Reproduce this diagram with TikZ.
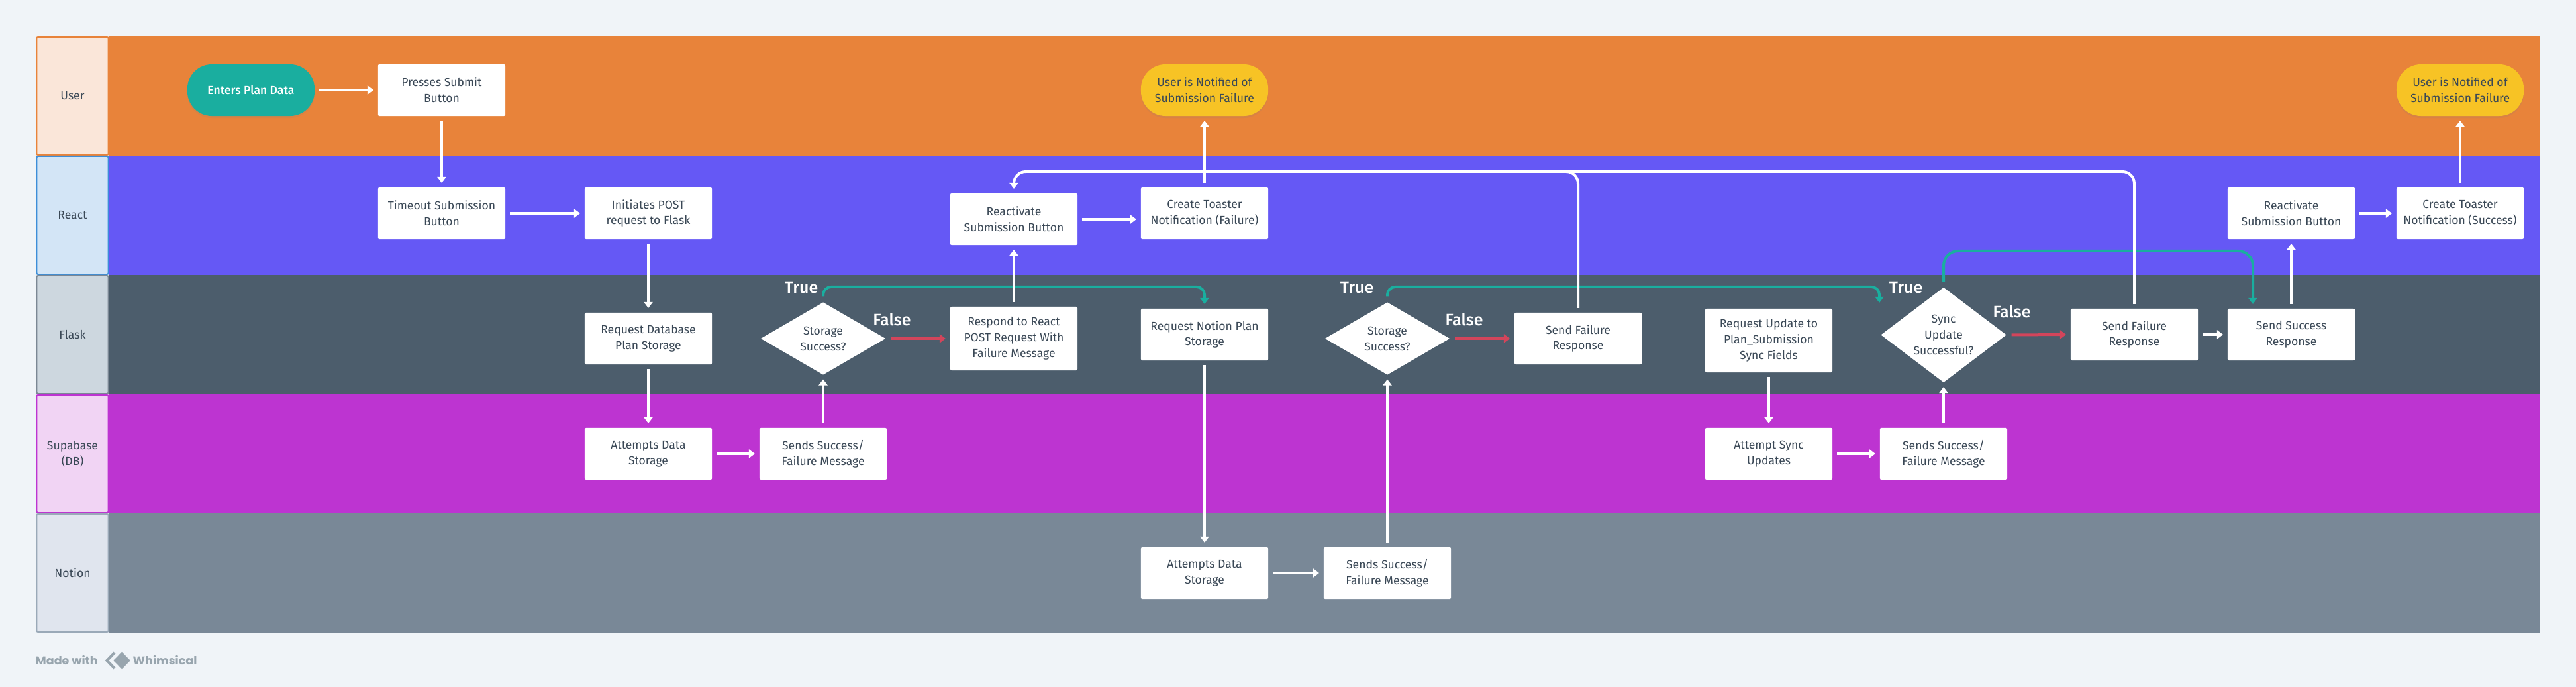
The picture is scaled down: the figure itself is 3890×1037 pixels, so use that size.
\documentclass[tikz,border=0pt]{standalone}
\usepackage{fontspec}
\setmainfont{Fira Sans}
\newfontfamily\mediumfont{Fira Sans Medium}
\newfontfamily\footfont{Poppins}
\usetikzlibrary{arrows.meta}
\usetikzlibrary{shapes.geometric}
\usetikzlibrary{shadows}
\definecolor{pagegrey}{HTML}{F0F4F8}
\definecolor{laneorange}{HTML}{E8833A}
\definecolor{laneviolet}{HTML}{6558F5}
\definecolor{laneslate}{HTML}{4C5D6C}
\definecolor{lanepurple}{HTML}{BD34D1}
\definecolor{lanegrey}{HTML}{798897}
\definecolor{headorange}{HTML}{FAE6D9}
\definecolor{headblue}{HTML}{D3E5F6}
\definecolor{headslate}{HTML}{CDD7DF}
\definecolor{headpurple}{HTML}{F1D4F4}
\definecolor{headgrey}{HTML}{E0E5EE}
\definecolor{edgeblue}{HTML}{3D8ED8}
\definecolor{edgeslate}{HTML}{7B8794}
\definecolor{edgegrey}{HTML}{9AA9B8}
\definecolor{bookteal}{HTML}{1AAE9F}
\definecolor{bookyellow}{HTML}{F7C325}
\definecolor{bookred}{HTML}{D3455B}
\definecolor{inkdark}{HTML}{3A4856}
\definecolor{inklight}{HTML}{98A5AE}
\tikzset{>={Triangle[length=0.09cm,width=0.13cm]}}
\tikzstyle{lane}=[rectangle,minimum height=1.8cm,minimum width=36.70cm,inner sep=0,outer sep=0]
\tikzstyle{lanehead}=[rectangle,rounded corners=0.02cm,minimum height=1.78cm,minimum width=1.08cm,inner sep=0,align=center,text=inkdark,line width=0.02cm,font=\fontsize{5}{6.8}\selectfont]
\tikzstyle{task}=[rectangle,rounded corners=0.02cm,fill=white,minimum width=1.92cm,minimum height=0.78cm,inner sep=0,outer sep=0,align=center,text=inkdark,font=\fontsize{5}{6.8}\selectfont]
\tikzstyle{pill}=[task,rounded corners=0.37cm,drop shadow={opacity=0.15,shadow xshift=0cm,shadow yshift=-0.03cm}]
\tikzstyle{choice}=[diamond,fill=white,inner sep=0,outer sep=0,align=center,text=inkdark,font=\fontsize{5}{6.8}\selectfont]
\tikzstyle{whiteline}=[draw=white,line width=0.04cm,->,shorten >=0.07cm,shorten <=0.07cm]
\tikzstyle{tealline}=[draw=bookteal,line width=0.04cm,->,shorten >=0.07cm,shorten <=0.09cm,rounded corners=0.12cm]
\tikzstyle{redline}=[draw=bookred,line width=0.04cm,->,shorten >=0.07cm,shorten <=0.08cm]
\tikzstyle{branch}=[text=white,inner sep=0,font=\mediumfont\fontsize{7.1}{9}\selectfont]
\tikzstyle{credit}=[text=inklight,anchor=west,inner sep=0,font=\footfont\fontsize{5}{7}\bfseries\selectfont]
\begin{document}
\begin{tikzpicture}[x=0.01cm,y=-0.01cm]
    \useasboundingbox[fill=pagegrey] (0,0) rectangle (3890,1037);

    % swimlanes
    \node[lane,fill=laneorange,anchor=north west] (laneuser) at (164,55) {};
    \node[lane,fill=laneviolet,anchor=north west] (lanereact) at (164,235) {};
    \node[lane,fill=laneslate,anchor=north west] (laneflask) at (164,415) {};
    \node[lane,fill=lanepurple,anchor=north west] (lanedb) at (164,595) {};
    \node[lane,fill=lanegrey,anchor=north west] (lanenotion) at (164,775) {};
    \node[lanehead,fill=headorange,draw=laneorange] (headuser) at (109.5,145) {User};
    \node[lanehead,fill=headblue,draw=edgeblue] (headreact) at (109.5,325) {React};
    \node[lanehead,fill=headslate,draw=edgeslate] (headflask) at (109.5,505) {Flask};
    \node[lanehead,fill=headpurple,draw=lanepurple] (headdb) at (109.5,685) {Supabase\\(DB)};
    \node[lanehead,fill=headgrey,draw=edgegrey] (headnotion) at (109.5,865) {Notion};

    % first half
    \node[pill,fill=bookteal,text=white,font=\mediumfont\fontsize{5}{6.8}\selectfont] (enters) at (379,136) {Enters Plan Data};
    \node[task] (presses) at (667,136) {Presses Submit\\Button};
    \node[task] (timeout) at (667,322) {Timeout Submission\\Button};
    \node[task] (initiates) at (979,322) {Initiates POST\\request to Flask};
    \node[task] (reqdb) at (979,511) {Request Database\\Plan Storage};
    \node[task] (attdb) at (979,685) {Attempts Data\\Storage};
    \node[task] (sendsdb) at (1243,685) {Sends Success/\\Failure Message};
    \node[choice,minimum width=1.88cm,minimum height=1.09cm,shape aspect=1.72] (askdb) at (1243,511) {Storage\\Success?};
    \node[task,minimum height=0.96cm] (respond) at (1531,511) {Respond to React\\POST Request With\\Failure Message};
    \node[task] (reactfail) at (1531,331) {Reactivate\\Submission Button};
    \node[task] (toastfail) at (1819,322) {Create Toaster\\Notification (Failure)};
    \node[pill,fill=bookyellow] (userfail) at (1819,136) {User is Notified of\\Submission Failure};

    % notion part
    \node[task] (reqnotion) at (1819,505) {Request Notion Plan\\Storage};
    \node[task] (attnotion) at (1819,865) {Attempts Data\\Storage};
    \node[task] (sendsnotion) at (2095,865) {Sends Success/\\Failure Message};
    \node[choice,minimum width=1.88cm,minimum height=1.09cm,shape aspect=1.72] (asknotion) at (2095,511) {Storage\\Success?};
    \node[task] (failnotion) at (2383,511) {Send Failure\\Response};

    % sync part
    \node[task,minimum height=0.96cm] (reqsync) at (2671,514) {Request Update to\\Plan\_Submission\\Sync Fields};
    \node[task] (attsync) at (2671,685) {Attempt Sync\\Updates};
    \node[task] (sendssync) at (2935,685) {Sends Success/\\Failure Message};
    \node[choice,minimum width=1.89cm,minimum height=1.43cm,shape aspect=1.32] (asksync) at (2935,505.5) {Sync\\Update\\Successful?};
    \node[task] (failsync) at (3223,505) {Send Failure\\Response};
    \node[task] (success) at (3460,505) {Send Success\\Response};
    \node[task] (reactok) at (3460,322) {Reactivate\\Submission Button};
    \node[task] (toastok) at (3715,322) {Create Toaster\\Notification (Success)};
    \node[pill,fill=bookyellow] (userok) at (3715,136) {User is Notified of\\Submission Failure};

    % branch labels
    \node[branch] (true1) at (1210,434) {True};
    \node[branch] (false1) at (1347,482) {False};
    \node[branch] (true2) at (2049,434) {True};
    \node[branch] (false2) at (2211,482) {False};
    \node[branch] (true3) at (2878,434) {True};
    \node[branch] (false3) at (3038,470) {False};

    % teal ones go under the white ones
    \coordinate (tealtop) at (0,433);
    \coordinate (tealsync) at (0,379);
    \coordinate (tealin) at (2838,464);
    \draw[tealline] (askdb.north) -- (askdb.north |- tealtop) -- (reqnotion.north |- tealtop) -- (reqnotion.north);
    \draw[tealline] (asknotion.north) -- (asknotion.north |- tealtop) -- (tealin |- tealtop) -- (tealin);
    \draw[tealline,rounded corners=0.22cm] (asksync.north) -- (asksync.north |- tealsync) -- ([xshift=-0.58cm]success.north |- tealsync) -- ([xshift=-0.58cm]success.north);

    \draw[redline] (askdb.east) -- (respond.west);
    \draw[redline] (asknotion.east) -- (failnotion.west);
    \draw[redline] (asksync.east) -- (failsync.west);

    \draw[whiteline] (enters) -- (presses);
    \draw[whiteline] (presses) -- (timeout);
    \draw[whiteline] (timeout) -- (initiates);
    \draw[whiteline] (initiates) -- (reqdb);
    \draw[whiteline] (reqdb) -- (attdb);
    \draw[whiteline] (attdb) -- (sendsdb);
    \draw[whiteline] (sendsdb.north) -- (askdb.south);
    \draw[whiteline] (respond) -- (reactfail);
    \draw[whiteline] (reactfail.east) -- (reactfail.east -| toastfail.west);
    \draw[whiteline] (toastfail) -- (userfail);
    \draw[whiteline] (reqnotion) -- (attnotion);
    \draw[whiteline] (attnotion) -- (sendsnotion);
    \draw[whiteline] (sendsnotion.north) -- (asknotion.south);
    \draw[whiteline] (reqsync) -- (attsync);
    \draw[whiteline] (attsync) -- (sendssync);
    \draw[whiteline] (sendssync.north) -- (asksync.south);
    \draw[whiteline] (failsync) -- (success);
    \draw[whiteline] (success) -- (reactok);
    \draw[whiteline] (reactok) -- (toastok);
    \draw[whiteline] (toastok) -- (userok);
    \coordinate (backtop) at (0,259);
    \draw[whiteline,rounded corners=0.18cm] (failsync.north) -- (failsync.north |- backtop) -- (reactfail.north |- backtop) -- (reactfail.north);
    \draw[whiteline,-,shorten >=0cm,rounded corners=0.18cm] (failnotion.north) -- (failnotion.north |- backtop) -- ([xshift=-0.4cm]failnotion.north |- backtop);

    % footer
    \node[credit] (madewith) at (53,997) {Made with};
    \node[diamond,fill=inklight,minimum width=0.26cm,minimum height=0.27cm,inner sep=0] (logo) at (184,997) {};
    \draw[inklight,line width=0.04cm] (173,985) -- (161.5,997) -- (173,1009);
    \node[credit] (whimsical) at (200,997) {Whimsical};
\end{tikzpicture}
\end{document}
